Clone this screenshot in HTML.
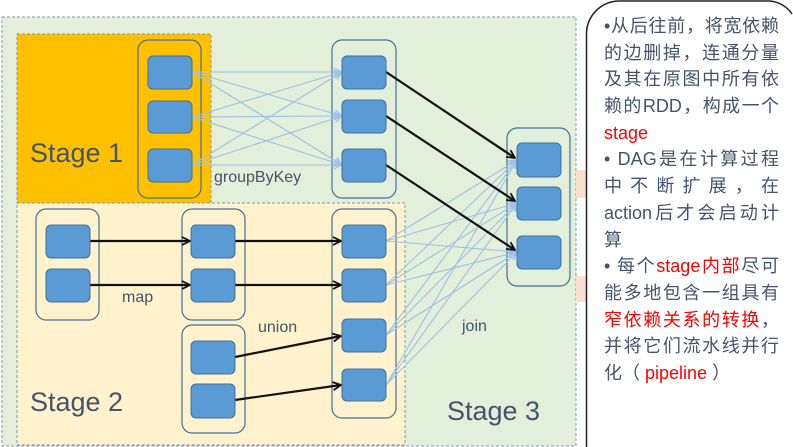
<!DOCTYPE html>
<html><head><meta charset="utf-8"><style>
html,body{margin:0;width:793px;height:447px;overflow:hidden}
body{background:#fff;position:relative;font-family:"Liberation Sans","Noto Sans CJK SC",sans-serif}
.tx{position:absolute;left:604px;top:13px;width:175px;font-size:18px;line-height:26.7px;color:#44546a}
.tx div{height:26.7px;white-space:nowrap;text-align:justify;text-align-last:justify}
.tx div.n{text-align-last:left}
.r{color:#f00}
</style></head><body>
<svg width="793" height="447" style="position:absolute;left:0;top:0">
<defs>
<marker id="ab" markerWidth="10" markerHeight="10" refX="9" refY="5" orient="auto" markerUnits="userSpaceOnUse"><path d="M1,1 L9,5 L1,9" fill="none" stroke="#111" stroke-width="1.8"/></marker>
<marker id="al" markerWidth="10" markerHeight="10" refX="9" refY="5" orient="auto" markerUnits="userSpaceOnUse"><path d="M1,1 L9,5 L1,9" fill="none" stroke="#9cc2e8" stroke-width="1.2"/></marker>
</defs>
<rect x="2" y="17" width="574" height="429" fill="#e2efda" stroke="#8497b0" stroke-dasharray="3,2"/>
<rect x="576" y="170" width="10" height="28" fill="#fbe0d0"/>
<rect x="576" y="276" width="10" height="26" fill="#fbe0d0"/>
<path d="M586.5,447 V34 A33,33 0 0 1 619.5,1 H770 A30,30 0 0 1 792,14" fill="none" stroke="#222" stroke-width="1.5"/>
<rect x="17" y="34" width="194" height="169" fill="#ffc000" stroke="#8497b0" stroke-dasharray="3,2"/>
<rect x="17" y="203" width="388" height="242" fill="#fff2cc" stroke="#8497b0" stroke-dasharray="3,2"/>
<g fill="none" stroke="#41719c" stroke-width="1.2">
<rect x="138" y="40" width="63" height="158" rx="10"/>
<rect x="332" y="40" width="64" height="158" rx="10"/>
<rect x="507" y="128" width="63" height="158" rx="10"/>
<rect x="36" y="209" width="63" height="111" rx="10"/>
<rect x="182" y="209" width="63" height="111" rx="10"/>
<rect x="182" y="325" width="63" height="108" rx="10"/>
<rect x="332" y="209" width="64" height="209" rx="10"/>
</g>
<g stroke="#9dc3e6" stroke-width="1.1" marker-end="url(#al)">
<line x1="192" y1="72" x2="342" y2="72"/><line x1="192" y1="72" x2="342" y2="116"/><line x1="192" y1="72" x2="342" y2="165"/>
<line x1="192" y1="117" x2="342" y2="72"/><line x1="192" y1="117" x2="342" y2="116"/><line x1="192" y1="117" x2="342" y2="165"/>
<line x1="192" y1="165" x2="342" y2="72"/><line x1="192" y1="165" x2="342" y2="116"/><line x1="192" y1="165" x2="342" y2="165"/>
<line x1="386" y1="241" x2="517" y2="160"/><line x1="386" y1="241" x2="517" y2="203"/><line x1="386" y1="241" x2="517" y2="252"/>
<line x1="386" y1="285" x2="517" y2="160"/><line x1="386" y1="285" x2="517" y2="203"/><line x1="386" y1="285" x2="517" y2="252"/>
<line x1="386" y1="335" x2="517" y2="160"/><line x1="386" y1="335" x2="517" y2="203"/><line x1="386" y1="335" x2="517" y2="252"/>
<line x1="386" y1="385" x2="517" y2="160"/><line x1="386" y1="385" x2="517" y2="203"/><line x1="386" y1="385" x2="517" y2="252"/>
</g>
<g stroke="#111" stroke-width="2.2" marker-end="url(#ab)">
<line x1="386" y1="72" x2="515" y2="158"/><line x1="386" y1="116" x2="515" y2="201"/><line x1="386" y1="165" x2="515" y2="250"/>
<line x1="90" y1="241" x2="190" y2="241"/><line x1="90" y1="285" x2="190" y2="285"/>
<line x1="235" y1="241" x2="341" y2="241"/><line x1="235" y1="285" x2="341" y2="285"/>
<line x1="235" y1="357" x2="341" y2="336"/><line x1="235" y1="400" x2="341" y2="385"/>
</g>
<g fill="#5b9bd5" stroke="#41719c" stroke-width="1">
<rect x="148" y="56" width="44" height="33" rx="5"/><rect x="148" y="101" width="44" height="32" rx="5"/><rect x="148" y="149" width="44" height="33" rx="5"/>
<rect x="342" y="56" width="44" height="33" rx="5"/><rect x="342" y="100" width="44" height="33" rx="5"/><rect x="342" y="149" width="44" height="33" rx="5"/>
<rect x="517" y="143" width="44" height="34" rx="5"/><rect x="517" y="187" width="44" height="33" rx="5"/><rect x="517" y="236" width="44" height="33" rx="5"/>
<rect x="46" y="225" width="44" height="33" rx="5"/><rect x="46" y="269" width="44" height="33" rx="5"/>
<rect x="191" y="225" width="44" height="33" rx="5"/><rect x="191" y="269" width="44" height="33" rx="5"/>
<rect x="191" y="341" width="44" height="33" rx="5"/><rect x="191" y="384" width="44" height="34" rx="5"/>
<rect x="342" y="225" width="44" height="33" rx="5"/><rect x="342" y="269" width="44" height="33" rx="5"/><rect x="342" y="319" width="44" height="33" rx="5"/><rect x="342" y="369" width="44" height="32" rx="5"/>
</g>
<g fill="#44546a" font-family="Liberation Sans, sans-serif">
<text x="30" y="162" font-size="27">Stage 1</text>
<text x="30" y="411" font-size="27">Stage 2</text>
<text x="447" y="420" font-size="27">Stage 3</text>
<text x="214" y="182" font-size="16">groupByKey</text>
<text x="122" y="302" font-size="16">map</text>
<text x="258" y="332" font-size="16">union</text>
<text x="462" y="331" font-size="16">join</text>
</g>
</svg>
<div class="tx">
<div>•从后往前，将宽依赖</div>
<div>的边删掉，连通分量</div>
<div>及其在原图中所有依</div>
<div>赖的RDD，构成一个</div>
<div class="n"><span class="r">stage</span></div>
<div>• DAG是在计算过程</div>
<div>中 不 断 扩 展 ， 在</div>
<div>action后才会启动计</div>
<div class="n">算</div>
<div>• 每个<span class="r">stage内部</span>尽可</div>
<div>能多地包含一组具有</div>
<div><span class="r">窄依赖关系的转换</span>，</div>
<div>并将它们流水线并行</div>
<div class="n">化（ <span class="r">pipeline</span> ）</div>
</div>
</body></html>
